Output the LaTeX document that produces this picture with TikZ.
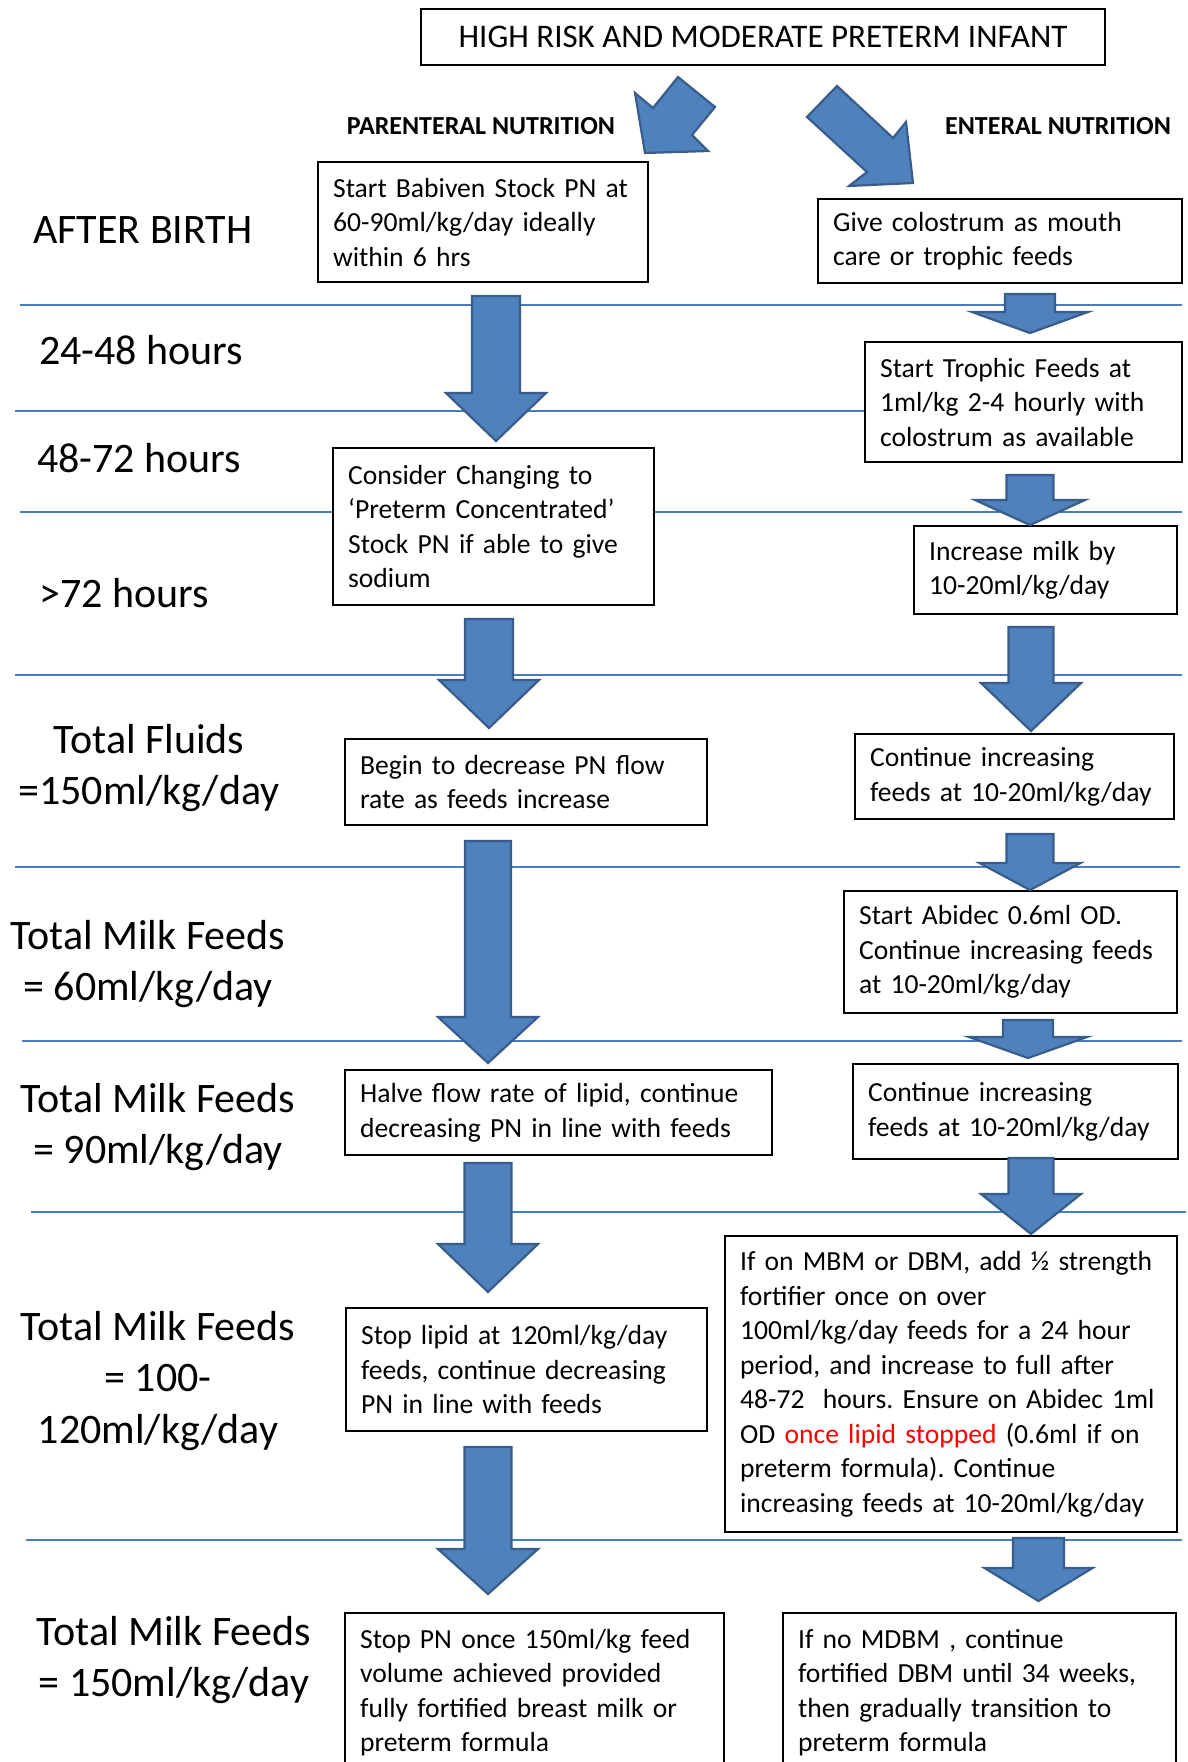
\documentclass[tikz,border=0pt]{standalone}
\usepackage{fontspec}
\setmainfont{Carlito}
\frenchspacing

\definecolor{arrowfill}{HTML}{4F81BD}
\definecolor{arrowline}{HTML}{385D8A}
\definecolor{bandblue}{HTML}{4A7EBB}

\newcommand{\boxfont}{\fontsize{27.6}{34.5}\selectfont}
\newcommand{\stagefont}{\fontsize{42}{51.5}\selectfont}
\newcommand{\headfont}{\fontsize{26}{31}\selectfont\bfseries}
\newcommand{\titlefont}{\fontsize{33}{40}\selectfont}

\begin{document}
\begin{tikzpicture}[x=1pt,y=-1pt,
    stepbox/.style={draw=black, line width=2.2pt, fill=white, anchor=north west, align=left, inner xsep=15pt, inner ysep=6pt, font=\boxfont},
    stage/.style={font=\stagefont, inner sep=0pt},
    colhead/.style={font=\headfont, inner sep=0pt, anchor=base},
    band/.style={draw=bandblue, line width=2.5pt},
    blockarr/.style={fill=arrowfill, draw=arrowline, line width=2.2pt, line join=miter}]

    \useasboundingbox (0,0) rectangle (1188,1762);

    \foreach \y/\xa/\xb in {305/20/1182, 411/15/900, 512/20/1182, 675/15/1182, 867/15/1180, 1041/22/1182, 1212/31/1186, 1540/26/1182}
        \draw[band] (\xa,\y) -- (\xb,\y);

    \node[draw, line width=2.2pt, minimum width=684pt, minimum height=56pt, inner sep=0pt, font=\titlefont] (infant) at (763,37) {HIGH RISK AND MODERATE PRETERM INFANT};
    \node[colhead] (pnhead) at (481,134) {PARENTERAL NUTRITION};
    \node[colhead] (enhead) at (1058,134) {ENTERAL NUTRITION};

    \node[stage, anchor=base west] (birth) at (33,243) {AFTER BIRTH};
    \node[stage, anchor=base west] (h24) at (39,364) {24-48 hours};
    \node[stage, anchor=base west] (h48) at (37,472) {48-72 hours};
    \node[stage, anchor=base west] (h72) at (39,607) {>72 hours};
    \node[stage, align=center] (fluids) at (149,768) {Total Fluids\\=150ml/kg/day};
    \node[stage, align=center] (milk60) at (148,964) {Total Milk Feeds\\= 60ml/kg/day};
    \node[stage, align=center] (milk90) at (158,1127) {Total Milk Feeds\\= 90ml/kg/day};
    \node[stage, align=center] (milk100) at (158,1381) {Total Milk Feeds\\= 100-\\120ml/kg/day};
    \node[stage, align=center] (milk150) at (174,1660) {Total Milk Feeds\\= 150ml/kg/day};

    \node[stepbox, minimum width=330pt, minimum height=120pt, text width=300pt] (pnstart) at (317,161) {Start Babiven Stock PN at\\60-90ml/kg/day ideally\\within 6 hrs};
    \node[stepbox, minimum width=321pt, minimum height=157pt, text width=291pt] (pnchange) at (332,447) {Consider Changing to\\‘Preterm Concentrated’\\Stock PN if able to give\\sodium};
    \node[stepbox, minimum width=362pt, minimum height=86pt, text width=332pt] (pnflow) at (344,738) {Begin to decrease PN flow\\rate as feeds increase};
    \node[stepbox, minimum width=427pt, minimum height=85pt, text width=397pt] (pnhalve) at (344,1069) {Halve flow rate of lipid, continue\\decreasing PN in line with feeds};
    \node[stepbox, minimum width=361pt, minimum height=123pt, text width=331pt] (pnlipid) at (345,1307) {Stop lipid at 120ml/kg/day\\feeds, continue decreasing\\PN in line with feeds};
    \node[stepbox, minimum width=379pt, text width=349pt, inner ysep=16pt, text depth=200pt] (pnstop) at (344,1612) {Stop PN once 150ml/kg feed\\volume achieved provided\\fully fortified breast milk or\\preterm formula};

    \node[stepbox, minimum width=364pt, minimum height=84pt, text width=334pt] (encolo) at (817,198) {Give colostrum as mouth\\care or trophic feeds};
    \node[stepbox, minimum width=317pt, minimum height=120pt, text width=287pt] (entrophic) at (864,341) {Start Trophic Feeds at\\1ml/kg 2-4 hourly with\\colostrum as available};
    \node[stepbox, minimum width=263pt, minimum height=88pt, text width=233pt] (enmilk) at (913,525) {Increase milk by\\10-20ml/kg/day};
    \node[stepbox, minimum width=319pt, minimum height=85pt, text width=289pt] (enfeedsa) at (854,733) {Continue increasing\\feeds at 10-20ml/kg/day};
    \node[stepbox, minimum width=333pt, minimum height=122pt, text width=303pt] (enabidec) at (843,890) {Start Abidec 0.6ml OD.\\Continue increasing feeds\\at 10-20ml/kg/day};
    \node[stepbox, minimum width=325pt, minimum height=95pt, text width=295pt] (enfeedsb) at (852,1063) {Continue increasing\\feeds at 10-20ml/kg/day};
    \node[stepbox, minimum width=452pt, minimum height=296pt, text width=422pt] (enfortify) at (724,1235) {If on MBM or DBM, add ½ strength\\fortifier once on over\\100ml/kg/day feeds for a 24 hour\\period, and increase to full after\\48-72~ hours. Ensure on Abidec 1ml\\OD \textcolor{red}{once lipid stopped} (0.6ml if on\\preterm formula). Continue\\increasing feeds at 10-20ml/kg/day};
    \node[stepbox, minimum width=393pt, text width=363pt, inner ysep=16pt, text depth=200pt] (endbm) at (782,1612) {If no MDBM , continue\\fortified DBM until 34 weeks,\\then gradually transition to\\preterm formula};

    \draw[blockarr] (635,93) -- (653,108) -- (678,77) -- (715,107) -- (692,135) -- (708,151) -- (645,153) -- cycle;
    \draw[blockarr] (837,86) -- (893,138) -- (906,122) -- (913,183) -- (849,186) -- (867,172) -- (807,117) -- cycle;

    \foreach \cx/\yt/\yh/\yp/\sh/\hh in {496/296/393/441/24/50, 489/619/680/728/24/50, 488/841/1017/1063/23/50, 488/1163/1244/1292/23.5/50, 488/1447/1549/1594/23.5/50, 1030/294/312/333/25/58, 1030/475/500/525/23.5/55, 1031/627/683/731/22.5/50, 1030/834/863/890/23.5/50.5, 1028/1020/1037/1058/25/59, 1031/1158/1194/1234/22.5/50, 1038.5/1538/1568/1601/25.5/54}
        \draw[blockarr] ({\cx-\sh},\yt) -- ({\cx+\sh},\yt) -- ({\cx+\sh},\yh) -- ({\cx+\hh},\yh) -- (\cx,\yp) -- ({\cx-\hh},\yh) -- ({\cx-\sh},\yh) -- cycle;

\end{tikzpicture}
\end{document}
